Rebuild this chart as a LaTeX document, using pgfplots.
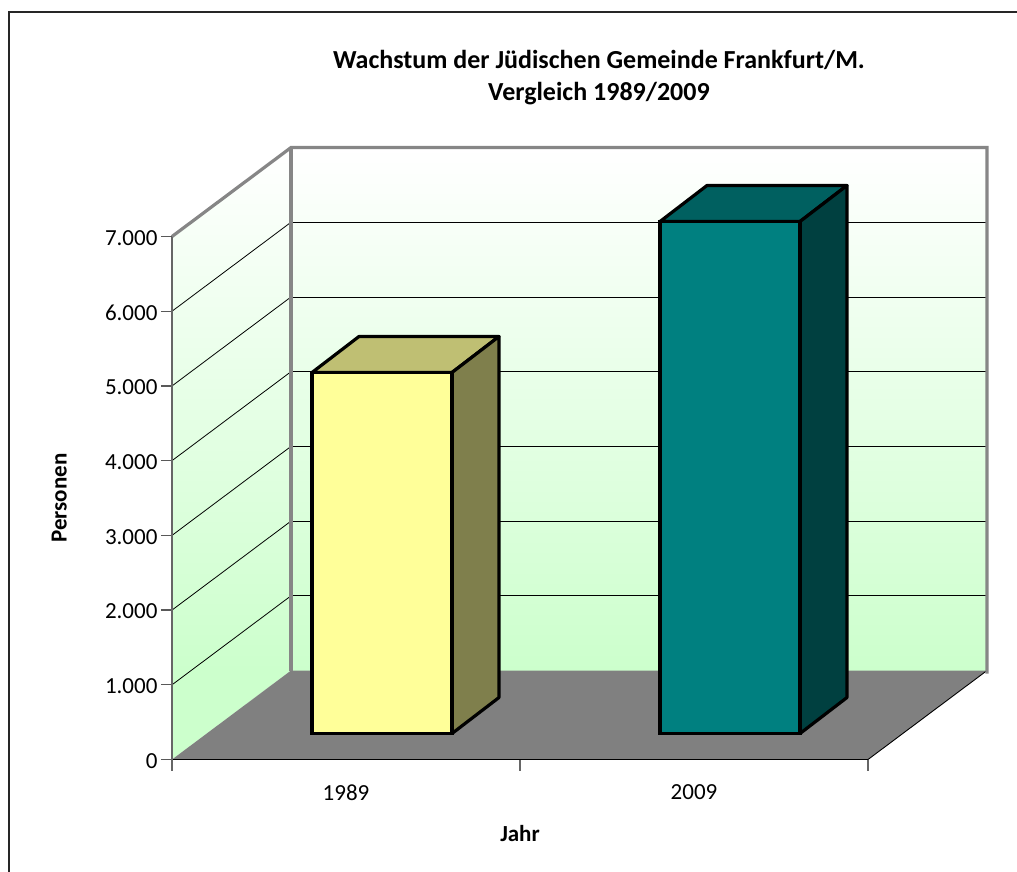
\documentclass[border=0pt]{standalone}
\usepackage{pgfplots}
\pgfplotsset{compat=1.18}
\usepackage{fontspec}
\setmainfont{Carlito}
\definecolor{wallgreen}{HTML}{CCFFCC}
\definecolor{wallgray}{HTML}{868686}
\begin{document}
\begin{tikzpicture}[x=1pt,y=1pt]
\useasboundingbox (-172,-113) rectangle (845,759);
\begin{axis}[
  at={(0,-0.7)},anchor=south west,
  scale only axis,width=696pt,height=523pt,
  xmin=0,xmax=696,ymin=0,ymax=7000,
  clip=false,
  axis on top,
  axis x line=bottom,axis y line=left,
  axis line style={-},
  x axis line style={black,line width=1.2pt},
  y axis line style={black!60,line width=1.8pt},
  xtick={174,522},xticklabels={1989,2009},
  minor xtick={0,348,696},
  ytick={0,1000,2000,3000,4000,5000,6000,7000},
  major tick length=11pt,minor tick length=11pt,
  major x tick style={draw=none},
  minor x tick style={draw=black!60,line width=1.2pt},
  ytick style={black!65,line width=1.2pt},
  tick align=outside,
  scaled y ticks=false,
  yticklabel style={yshift=-1.5pt,/pgf/number format/.cd,1000 sep={.},assume math mode=true},
  tick label style={font=\fontsize{23}{27}\selectfont},
  xticklabel style={yshift=-10.5pt,/pgf/number format/assume math mode=true},
  title={Wachstum der Jüdischen Gemeinde Frankfurt/M.\\Vergleich 1989/2009},
  title style={at={(axis description cs:0.6135,1.2925)},anchor=center,align=center,font=\fontsize{26}{32}\selectfont\bfseries},
  xlabel={Jahr},
  xlabel style={at={(axis description cs:0.5,-0.1415)},anchor=center,font=\fontsize{23}{27}\selectfont\bfseries},
  ylabel={Personen},
  ylabel style={at={(axis description cs:-0.162,0.5)},anchor=center,rotate=0,font=\fontsize{23}{27}\selectfont\bfseries},
]
% walls
\begin{scope}
\clip (axis cs:0,0) -- (axis cs:119,1191) -- (axis cs:119,8191) -- (axis cs:0,7000) -- cycle;
\shade[top color=white,bottom color=wallgreen] (axis cs:0,1191) rectangle (axis cs:119,8191);
\fill[wallgreen] (axis cs:0,-10) rectangle (axis cs:119,1191);
\end{scope}
\shade[top color=white,bottom color=wallgreen] (axis cs:119,1191) rectangle (axis cs:815,8191);
% grid
\foreach \v/\w in {1000/2191,2000/3191,3000/4191,4000/5191,5000/6191,6000/7191}{
  \edef\tmp{\noexpand\addplot[black,line width=0.8pt] coordinates {(0,\v) (119,\w)};
            \noexpand\addplot[black,line width=0.8pt] coordinates {(119,\w) (815,\w)};}
  \tmp
}
% floor
\addplot[fill=black!50,draw=none] coordinates {(0,0) (696,0) (815,1191) (119,1191)} --cycle;
\addplot[black,line width=0.9pt] coordinates {(696,0) (815,1191)};
% wall borders
\addplot[wallgray,line width=3.2pt,line join=miter] coordinates {(0,7000) (119,8191) (815,8191) (815,1150)};
\addplot[wallgray,line width=3.2pt] coordinates {(119,8191) (119,1191)};
% bar 1989
\addplot[fill={rgb,255:red,191;green,191;blue,115},draw=black,line width=3.2pt,line join=round] coordinates {(140,5180) (187,5662) (327,5662) (280,5180)} --cycle;
\addplot[fill={rgb,255:red,127;green,127;blue,76},draw=black,line width=3.2pt,line join=round] coordinates {(280,5180) (327,5662) (327,830) (280,348)} --cycle;
\addplot[fill={rgb,255:red,255;green,255;blue,153},draw=black,line width=3.2pt,line join=miter] coordinates {(140,348) (280,348) (280,5180) (140,5180)} --cycle;
% bar 2009
\addplot[fill={rgb,255:red,0;green,96;blue,96},draw=black,line width=3.2pt,line join=round] coordinates {(488,7201) (535,7683) (675,7683) (628,7201)} --cycle;
\addplot[fill={rgb,255:red,0;green,64;blue,64},draw=black,line width=3.2pt,line join=round] coordinates {(628,7201) (675,7683) (675,830) (628,348)} --cycle;
\addplot[fill={rgb,255:red,0;green,128;blue,128},draw=black,line width=3.2pt,line join=miter] coordinates {(488,348) (628,348) (628,7201) (488,7201)} --cycle;
\end{axis}
% outer frame of the chart area
\draw[black!85,line width=1.8pt] (-163,-113) -- (-163,747.2) -- (845,747.2);
\end{tikzpicture}
\end{document}
